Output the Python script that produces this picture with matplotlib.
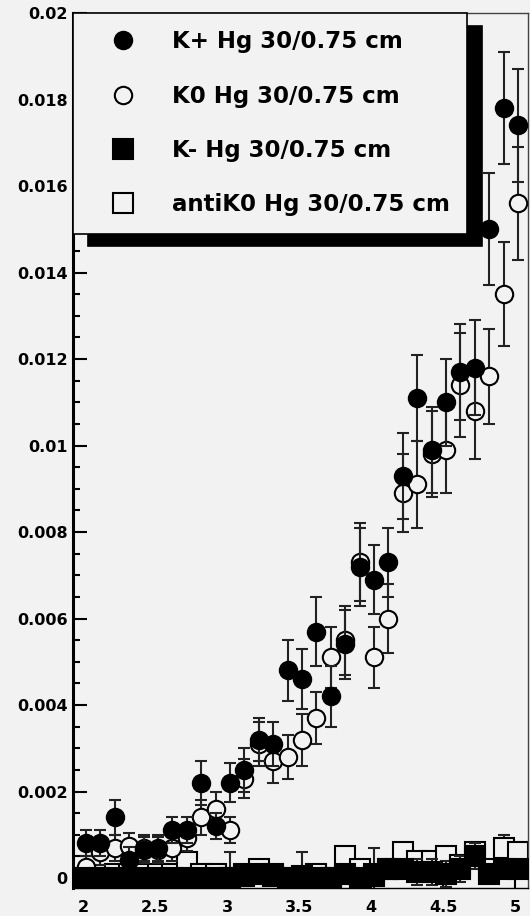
import matplotlib
matplotlib.use("Agg")
import matplotlib.pyplot as plt
from matplotlib.ticker import MultipleLocator, FormatStrFormatter

# --- dane (p w GeV/c, yield) ---
p_bins = [2.02, 2.12, 2.22, 2.32, 2.42, 2.52, 2.62, 2.72, 2.82, 2.92,
          3.02, 3.12, 3.22, 3.32, 3.42, 3.52, 3.62, 3.72, 3.82, 3.92,
          4.02, 4.12, 4.22, 4.32, 4.42, 4.52, 4.62, 4.72, 4.82, 4.92, 5.02]

kplus = [0.0008, 0.0008, 0.0014, 0.00042, 0.00065, 0.0007, 0.0011, 0.0011, 0.0022, 0.0012,
         0.0022, 0.0025, 0.0032, 0.0031, 0.0048, 0.0046, 0.0057, 0.0042, 0.0054, 0.0072,
         0.0069, 0.0073, 0.0093, 0.0111, 0.0099, 0.0110, 0.0117, 0.0118, 0.0150, 0.0178, 0.0174]
kplus_err = [0.0003, 0.0003, 0.0004, 0.0003, 0.0003, 0.0003, 0.0003, 0.0003, 0.0005, 0.0003,
             0.00045, 0.0005, 0.0005, 0.0005, 0.0007, 0.0007, 0.0008, 0.0007, 0.0008, 0.0009,
             0.0008, 0.0008, 0.0010, 0.0010, 0.0010, 0.0010, 0.0011, 0.0011, 0.0013, 0.0013, 0.0013]

k0 = [0.00025, 0.0006, 0.0007, 0.00074, 0.0007, 0.00065, 0.0007, 0.00092, 0.0014, 0.0016,
      0.0011, 0.0023, 0.0031, 0.0027, 0.0028, 0.0032, 0.0037, 0.0051, 0.0055, 0.0073,
      0.0051, 0.0060, 0.0089, 0.0091, 0.0098, 0.0099, 0.0114, 0.0108, 0.0116, 0.0135, 0.0156]
k0_err = [0.00025, 0.0003, 0.0003, 0.0003, 0.0003, 0.0003, 0.0003, 0.0003, 0.0004, 0.0004,
          0.0003, 0.00045, 0.0005, 0.0005, 0.0005, 0.0006, 0.0006, 0.0007, 0.0008, 0.0009,
          0.0007, 0.0008, 0.0009, 0.0010, 0.0010, 0.0010, 0.0012, 0.0011, 0.0011, 0.0012, 0.0013]

kminus = [0.0, 0.0, 0.0, 0.0, 0.0, 0.0, 0.0, 0.0, 0.0, 0.0,
          0.0, 0.00005, 0.0001, 0.00005, 0.0, 0.00005, 0.0, 0.0, 0.0001, 0.0,
          0.00005, 0.0002, 0.0002, 0.00015, 0.00015, 0.0001, 0.0002, 0.0005, 0.0001, 0.0002, 0.0002]
kminus_err = [0.0001, 0.0001, 0.0001, 0.0001, 0.0001, 0.0001, 0.0001, 0.0001, 0.0001, 0.0001,
              0.0001, 0.0001, 0.0001, 0.0001, 0.0001, 0.0001, 0.0001, 0.0001, 0.0001, 0.0001,
              0.0002, 0.0002, 0.0002, 0.0003, 0.0003, 0.0003, 0.0003, 0.0003, 0.0002, 0.0002, 0.0002]

antik0 = [0.0, 0.0, 0.0001, 0.0001, 0.0001, 0.0001, 0.0001, 0.00037, 0.0001, 0.0001,
          0.0, 0.0001, 0.0002, 0.0001, 0.0, 0.0, 0.0001, 0.0, 0.0005, 0.0002,
          0.0001, 0.0002, 0.0006, 0.0004, 0.0004, 0.0005, 0.0003, 0.0006, 0.0002, 0.0007, 0.0006]
antik0_err = [0.0002, 0.0002, 0.0002, 0.0002, 0.0002, 0.0002, 0.0002, 0.0002, 0.0002, 0.0002,
              0.0006, 0.0002, 0.0002, 0.0002, 0.0002, 0.0006, 0.0002, 0.0002, 0.0002, 0.0002,
              0.0006, 0.0002, 0.0002, 0.0002, 0.0002, 0.0002, 0.0002, 0.0002, 0.0002, 0.0003, 0.0002]

labels = ["K+ Hg 30/0.75 cm", "K0 Hg 30/0.75 cm", "K- Hg 30/0.75 cm", "antiK0 Hg 30/0.75 cm"]

BG = "#f2f2f2"
EC = "#222222"

plt.rcParams['font.family'] = ['DejaVu Sans']
plt.rcParams['font.weight'] = 'bold'

fig = plt.figure(figsize=(5.30, 9.16), dpi=100, facecolor=BG)
ax = fig.add_axes([73 / 530, 1 - 888 / 916, 455 / 530, 875 / 916])
ax.set_facecolor(BG)

common = dict(ecolor=EC, elinewidth=1.5, capsize=4.5, capthick=1.5, mec="black", mew=1.5)

eb_ak = ax.errorbar(p_bins, antik0, yerr=antik0_err, fmt="s", ms=14, mfc=BG, zorder=2, **common)
eb_k0 = ax.errorbar(p_bins, k0, yerr=k0_err, fmt="o", ms=12.5, mfc=BG, zorder=3, **common)
eb_kp = ax.errorbar(p_bins, kplus, yerr=kplus_err, fmt="o", ms=12.5, mfc="black", zorder=4, **common)
eb_km = ax.errorbar(p_bins, kminus, yerr=kminus_err, fmt="s", ms=14, mfc="black", zorder=5, **common)

ax.set_xlim(1.93, 5.09)
ax.set_ylim(-0.00023, 0.02)

ax.yaxis.set_major_locator(MultipleLocator(0.002))
ax.yaxis.set_minor_locator(MultipleLocator(0.0005))
ax.yaxis.set_major_formatter(FormatStrFormatter("%g"))
ax.xaxis.set_major_locator(MultipleLocator(0.5))
ax.xaxis.set_major_formatter(FormatStrFormatter("%g"))

ax.tick_params(axis="y", which="major", direction="in", length=10, width=1.5, pad=4, labelsize=11.5)
ax.tick_params(axis="y", which="minor", direction="in", length=5, width=1.5)
ax.tick_params(axis="x", which="major", direction="in", length=6, width=1.5, pad=9, labelsize=11.5)

for s in ["top", "right"]:
    ax.spines[s].set_linewidth(1.0)
    ax.spines[s].set_color("#444444")
ax.spines["left"].set_linewidth(2.2)
ax.spines["left"].set_color("black")
ax.spines["bottom"].set_linewidth(1.0)

handles = [eb_kp[0], eb_k0[0], eb_km[0], eb_ak[0]]
leg = ax.legend(handles, labels, loc="upper left", bbox_to_anchor=(0, 1), borderaxespad=0,
                prop=dict(family="DejaVu Sans", weight="bold", size=16.5),
                handlelength=2.85, handletextpad=0.7, borderpad=0.75, labelspacing=1.37,
                numpoints=1, fancybox=False, edgecolor="black", facecolor=BG, framealpha=1,
                shadow={"ox": 11, "oy": -9, "facecolor": "black", "edgecolor": "black", "alpha": 1})
leg.get_frame().set_linewidth(1.2)
leg.set_zorder(10)

fig.savefig("out.png", dpi=100, facecolor=BG)
